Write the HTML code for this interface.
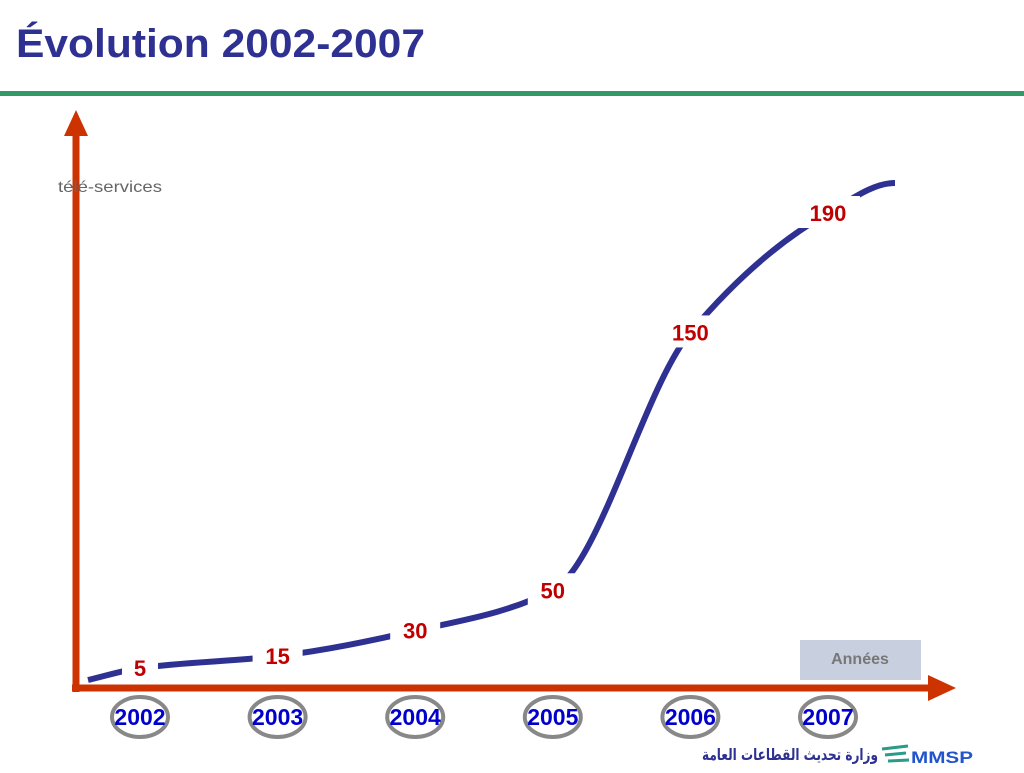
<!DOCTYPE html>
<html><head><meta charset="utf-8"><style>
body{margin:0;width:1024px;height:768px;background:#fff;overflow:hidden;font-family:"Liberation Sans",sans-serif}
</style></head><body>
<svg width="1024" height="768" xmlns="http://www.w3.org/2000/svg">
<text x="16" y="57" font-size="40" font-weight="bold" fill="#2e3192" font-family="Liberation Sans" textLength="409" lengthAdjust="spacingAndGlyphs">Évolution 2002-2007</text>
<rect x="0" y="91" width="1024" height="5" fill="#339966"/>
<g id="plot"></g>
<line x1="76" y1="692" x2="76" y2="132" stroke="#cc3300" stroke-width="7"/>
<polygon points="64,136 88,136 76,110" fill="#cc3300"/>
<line x1="72" y1="688" x2="932" y2="688" stroke="#cc3300" stroke-width="7"/>
<polygon points="928,675 928,701 956,688" fill="#cc3300"/>
<text x="58" y="192" font-size="16" fill="#666" font-family="Liberation Sans" textLength="104" lengthAdjust="spacingAndGlyphs">télé-services</text>
<rect x="800" y="640" width="121" height="40" fill="#c8d0e0"/>
<text x="860" y="664" font-size="16" fill="#777" text-anchor="middle" font-weight="bold">Années</text>
<g id="ticks"></g>
<text x="702" y="760" font-size="16" fill="#2e3192" textLength="176" lengthAdjust="spacingAndGlyphs" font-family="'DejaVu Sans',sans-serif" font-weight="bold">وزارة تحديث القطاعات العامة</text>
<g><path d="M882 749 L908 746 M885 755 L906 753 M888 761 L909 760" stroke="#2a9a8a" stroke-width="3"/></g>
<text x="911" y="763" font-size="17" font-weight="bold" fill="#2255cc" textLength="62" lengthAdjust="spacingAndGlyphs">MMSP</text>
</svg>
<script>
const years=["2002","2003","2004","2005","2006","2007"];
const values=[5,15,30,50,150,190];
const ns="http://www.w3.org/2000/svg";
const xPos=i=>140+i*137.6;
const vmin=5,vmax=190;
const yPos=v=>668-455*Math.pow((v-vmin)/(vmax-vmin),1.25);
const plot=document.getElementById('plot');
const pts=values.map((v,i)=>[xPos(i),yPos(v)]);
const all=[[88,680],...pts,[895,183]];
const n=all.length,dx=[],sl=[];
for(let i=0;i<n-1;i++){dx.push(all[i+1][0]-all[i][0]);sl.push((all[i+1][1]-all[i][1])/dx[i]);}
const m=[sl[0]];
for(let i=1;i<n-1;i++){m.push(sl[i-1]*sl[i]<=0?0:3*(dx[i-1]+dx[i])/((2*dx[i]+dx[i-1])/sl[i-1]+(dx[i]+2*dx[i-1])/sl[i]));}
m.push(0);
let d="M"+all[0][0]+","+all[0][1];
for(let i=0;i<n-1;i++){
 const h=dx[i]/3;
 d+=` C${all[i][0]+h},${all[i][1]+m[i]*h} ${all[i+1][0]-h},${all[i+1][1]-m[i+1]*h} ${all[i+1][0]},${all[i+1][1]}`;
}
const path=document.createElementNS(ns,'path');
path.setAttribute('d',d);path.setAttribute('fill','none');path.setAttribute('stroke','#2e3192');path.setAttribute('stroke-width','6');


plot.appendChild(path);
values.forEach((v,i)=>{
 const x=xPos(i),y=yPos(v);
 const r=document.createElementNS(ns,'rect');
 const w=String(v).length*14+22;
 r.setAttribute('x',x-w/2);r.setAttribute('y',y-17);r.setAttribute('width',w);r.setAttribute('height',32);r.setAttribute('fill','#fff');
 
 
 plot.appendChild(r);
 const t=document.createElementNS(ns,'text');
 t.setAttribute('x',x);t.setAttribute('y',y+8);t.setAttribute('text-anchor','middle');t.setAttribute('font-size','22');t.setAttribute('font-weight','bold');t.setAttribute('fill','#c00000');
 t.textContent=v;
 
 
 plot.appendChild(t);
});
const ticks=document.getElementById('ticks');
years.forEach((y,i)=>{
 const x=xPos(i);
 const e=document.createElementNS(ns,'ellipse');
 e.setAttribute('cx',x);e.setAttribute('cy',717);e.setAttribute('rx',28);e.setAttribute('ry',20);e.setAttribute('fill','none');e.setAttribute('stroke','#888');e.setAttribute('stroke-width','4');
 
 
 ticks.appendChild(e);
 const t=document.createElementNS(ns,'text');
 t.setAttribute('x',x);t.setAttribute('y',725);t.setAttribute('text-anchor','middle');t.setAttribute('font-size','23');t.setAttribute('font-weight','bold');t.setAttribute('fill','#0000cc');
 t.textContent=y;
 
 
 ticks.appendChild(t);
});
</script>
</body></html>
